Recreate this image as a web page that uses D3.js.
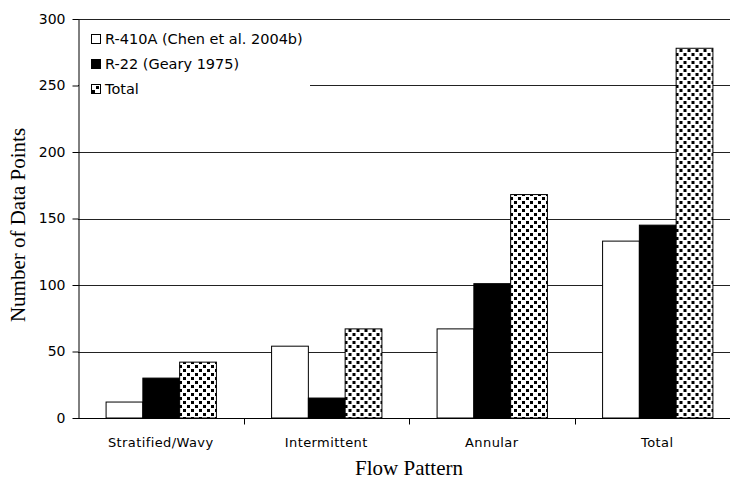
<!DOCTYPE html>
<html>
<head>
<meta charset="utf-8">
<script src="https://cdn.jsdelivr.net/npm/d3@7"></script>
<style>
  body { margin: 0; background: #fff; }
  svg { display: block; }
</style>
</head>
<body>
<div id="chart"></div>
<script>
// chart values
const categories = ["Stratified/Wavy", "Intermittent", "Annular", "Total"];
const series = ["R-410A (Chen et al. 2004b)", "R-22 (Geary 1975)", "Total"];
const r410a = [12, 54, 67, 133];
const r22 = [30, 15, 101, 145];
const total = [42, 67, 168, 278];
const yTicks = [0, 50, 100, 150, 200, 250, 300];

const W = 730, H = 481;
const margin = { left: 78, top: 19, right: -10, bottom: 63 };

const svg = d3.select('#chart').append('svg')
    .attr('width', W)
    .attr('height', H);

// dotted pattern for the "Total" series
const defs = svg.append('defs');
const pat = defs.append('pattern')
    .attr('id', 'dots')
    .attr('patternUnits', 'userSpaceOnUse')
    .attr('width', 8)
    .attr('height', 8);
pat.append('rect').attr('width', 8).attr('height', 8).attr('fill', '#fff');
pat.append('rect').attr('x', 1).attr('y', 1).attr('width', 3).attr('height', 3).attr('fill', '#000');
pat.append('rect').attr('x', 5).attr('y', 5).attr('width', 3).attr('height', 3).attr('fill', '#000');

const x0 = d3.scaleBand()
    .domain(categories)
    .range([margin.left, W - margin.right])
    .padding(0);

const x1 = d3.scaleBand()
    .domain(series)
    .range([0, x0.bandwidth()])
    .paddingInner(0)
    .paddingOuter(0.75);

const y = d3.scaleLinear()
    .domain([0, 300])
    .range([H - margin.bottom, margin.top]);

const fills = ['#fff', '#000', 'url(#dots)'];
const values = [r410a, r22, total];

// gridlines
svg.append('g')
    .selectAll('line')
    .data(yTicks.filter(d => d > 0))
    .join('line')
    .attr('x1', margin.left)
    .attr('x2', W)
    .attr('y1', d => Math.round(y(d)) + 0.5)
    .attr('y2', d => Math.round(y(d)) + 0.5)
    .attr('stroke', '#222')
    .attr('stroke-width', 1);

// legend background hides part of the gridline
svg.append('rect')
    .attr('x', margin.left + 1)
    .attr('y', 24)
    .attr('width', 231)
    .attr('height', 76)
    .attr('fill', '#fff');

// bars
const groups = svg.append('g')
    .selectAll('g')
    .data(categories)
    .join('g')
    .attr('transform', d => `translate(${x0(d)},0)`);

groups.selectAll('rect')
    .data((d, i) => series.map((s, j) => ({ s: s, v: values[j][i], f: fills[j] })))
    .join('rect')
    .attr('x', d => x1(d.s) + 0.5)
    .attr('y', d => y(d.v))
    .attr('width', x1.bandwidth())
    .attr('height', d => y(0) - y(d.v))
    .attr('fill', d => d.f)
    .attr('stroke', '#000')
    .attr('stroke-width', 1);

// y axis
const yAxis = svg.append('g')
    .attr('transform', `translate(${margin.left + 0.5},0)`)
    .call(d3.axisLeft(y).tickValues(yTicks).tickSize(6).tickSizeOuter(0).tickPadding(7));
yAxis.selectAll('text')
    .style('font-family', 'DejaVu Sans')
    .style('font-size', '14px')
    .attr('fill', '#000');
yAxis.select('.domain').attr('stroke', '#000');
yAxis.selectAll('.tick line').attr('stroke', '#000');

// x axis
const xAxisY = Math.round(y(0)) + 0.5;
svg.append('line')
    .attr('x1', margin.left)
    .attr('x2', W)
    .attr('y1', xAxisY)
    .attr('y2', xAxisY)
    .attr('stroke', '#000');

svg.append('g')
    .selectAll('line')
    .data(categories)
    .join('line')
    .attr('x1', d => Math.round(x0(d) + x0.bandwidth()) + 0.5)
    .attr('x2', d => Math.round(x0(d) + x0.bandwidth()) + 0.5)
    .attr('y1', xAxisY)
    .attr('y2', xAxisY + 6)
    .attr('stroke', '#000');

svg.append('g')
    .selectAll('text')
    .data(categories)
    .join('text')
    .attr('x', d => x0(d) + x0.bandwidth() / 2)
    .attr('y', 447)
    .attr('text-anchor', 'middle')
    .style('font-family', 'DejaVu Sans')
    .style('font-size', '13px')
    .style('letter-spacing', '0.4px')
    .text(d => d);

// axis titles
svg.append('text')
    .attr('x', (margin.left + W - margin.right) / 2)
    .attr('y', 475)
    .attr('text-anchor', 'middle')
    .style('font-family', 'Liberation Serif')
    .style('font-size', '21px')
    .text('Flow Pattern');

svg.append('text')
    .attr('transform', 'translate(25,225) rotate(-90)')
    .attr('text-anchor', 'middle')
    .style('font-family', 'Liberation Serif')
    .style('font-size', '21px')
    .text('Number of Data Points');

// legend
const legend = svg.append('g')
    .selectAll('g')
    .data(series)
    .join('g')
    .attr('transform', (d, i) => `translate(91,${39 + i * 25})`);

legend.append('rect')
    .attr('x', 0.5)
    .attr('y', -4.5)
    .attr('width', 9)
    .attr('height', 9)
    .attr('fill', (d, i) => fills[i])
    .attr('stroke', '#000');

legend.append('text')
    .attr('x', 14)
    .attr('y', 0)
    .attr('dy', '0.35em')
    .style('font-family', 'DejaVu Sans')
    .style('font-size', '14.5px')
    .text(d => d);
</script>
</body>
</html>
